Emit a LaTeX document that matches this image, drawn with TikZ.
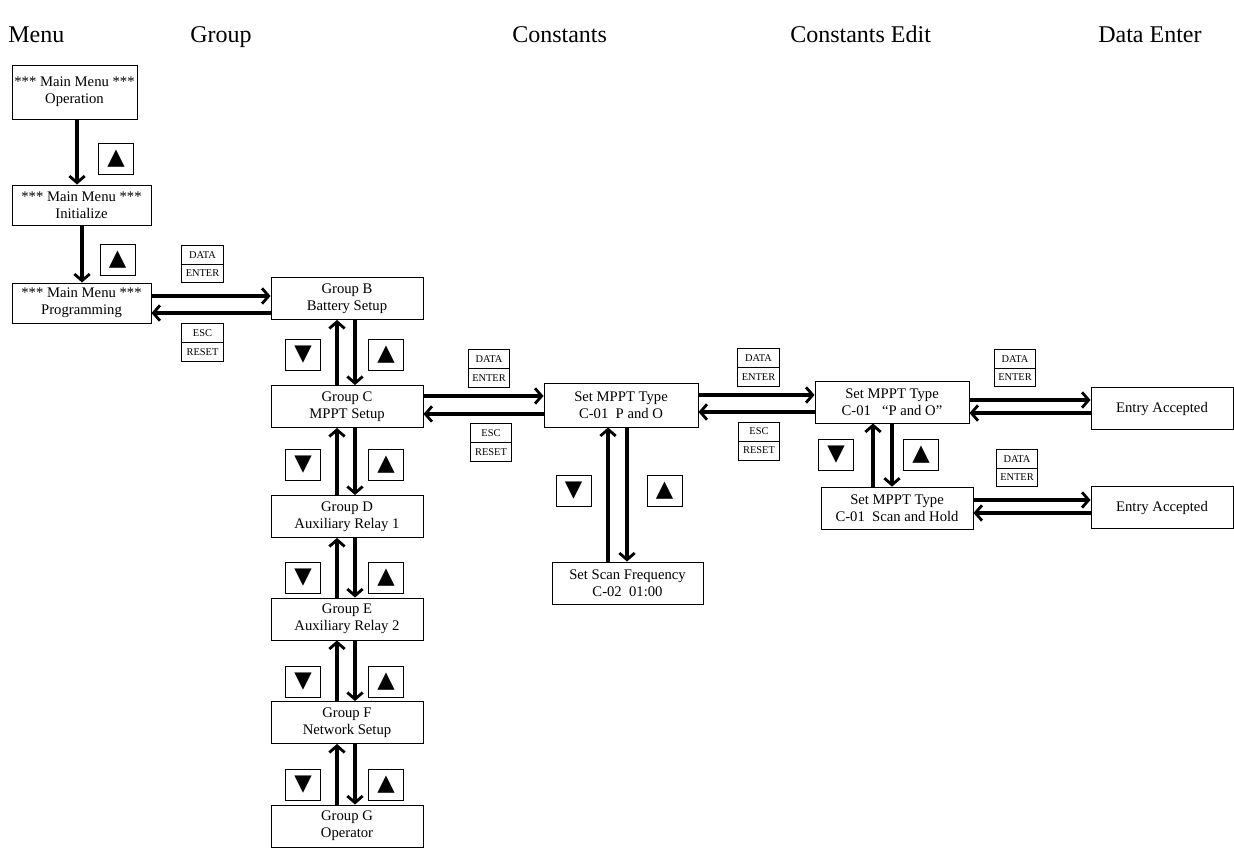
\documentclass[tikz,border=0pt]{standalone}
\usepackage{fontspec}
\setmainfont{Liberation Serif}
\newfontfamily\symfont{DejaVu Sans}
\usetikzlibrary{arrows.meta,shapes.multipart}

\tikzset{
  screen/.style={draw, line width=0.7pt, align=center, inner sep=0pt,
    font=\fontsize{11}{12.5}\selectfont},
  keybox/.style={draw, line width=0.7pt, minimum width=26.25pt,
    minimum height=23.25pt, inner sep=0pt, font=\symfont\fontsize{17}{17}\selectfont},
  enterkey/.style={draw, line width=0.6pt, rectangle split, rectangle split parts=2,
    inner xsep=1.2pt, inner ysep=4.2pt, minimum width=31pt,
    font=\fontsize{7.8}{8.5}\selectfont},
  arr/.style={-{Straight Barb[length=5pt,width=11.5pt,line width=2.1pt]}, line width=3pt},
  heading/.style={anchor=base west, inner sep=0pt, font=\fontsize{18}{20}\selectfont}
}

\begin{document}
\begin{tikzpicture}[x=0.75pt,y=-0.75pt]
    \useasboundingbox (0,0) rectangle (1234,848);

    % column titles
    \node[heading] (hmenu) at (8,43) {Menu};
    \node[heading] (hgroup) at (190,43) {Group};
    \node[heading] (hconst) at (512,43) {Constants};
    \node[heading] (hedit) at (790,43) {Constants Edit};
    \node[heading] (hdata) at (1098,43) {Data Enter};

    % main menu
    \node[screen, minimum width=93.75pt, minimum height=40.5pt] (opmenu) at (74.5,92) {*** Main Menu ***\\Operation};
    \node[screen, minimum width=104.25pt, minimum height=30pt] (initmenu) at (81.5,205) {*** Main Menu ***\\Initialize};
    \node[screen, minimum width=104.25pt, minimum height=30pt] (progmenu) at (81.5,303) {*** Main Menu ***\\Programming};

    \draw[arr] ([xshift=1.9pt]opmenu.south) -- ([xshift=1.9pt]opmenu.south |- initmenu.north);
    \draw[arr] ([xshift=0.4pt]initmenu.south) -- ([xshift=0.4pt]initmenu.south |- progmenu.north);
    \node[keybox] (kup1) at (116,158.5) {▲};
    \node[keybox] (kup2) at (117.5,260) {▲};

    % groups
    \node[screen, minimum width=114pt, minimum height=31.5pt] (grpB) at (347,298.5) {Group B\\Battery Setup};
    \node[screen, minimum width=114pt, minimum height=31.5pt] (grpC) at (347,406.5) {Group C\\MPPT Setup};
    \node[screen, minimum width=114pt, minimum height=31.5pt] (grpD) at (347,516.5) {Group D\\Auxiliary Relay 1};
    \node[screen, minimum width=114pt, minimum height=31.5pt] (grpE) at (347,619) {Group E\\Auxiliary Relay 2};
    \node[screen, minimum width=114pt, minimum height=31.5pt] (grpF) at (347,722.5) {Group F\\Network Setup};
    \node[screen, minimum width=114pt, minimum height=31.5pt] (grpG) at (347,826) {Group G\\Operator};

    \foreach \a/\b in {grpB/grpC, grpC/grpD, grpD/grpE, grpE/grpF, grpF/grpG}{
        \draw[arr] ([xshift=-7.5pt]\b.north) -- ([xshift=-7.5pt]\a.south);
        \draw[arr] ([xshift=6pt]\a.south) -- ([xshift=6pt]\b.north);
    }
    \foreach \y in {355,465,578,682,785}{
        \node[keybox] (kd\y) at (303,\y) {▼};
        \node[keybox] (ku\y) at (386,\y) {▲};
    }

    \draw[arr] ([yshift=5.25pt]progmenu.east) -- ([yshift=5.25pt]progmenu.east -| grpB.west);
    \draw[arr] ([yshift=-10.9pt]grpB.west) -- ([yshift=-10.9pt]grpB.west -| progmenu.east);
    \node[enterkey] (enter1) at (202.5,264) {DATA\nodepart{two}ENTER};
    \node[enterkey] (reset1) at (202.5,342.5) {ESC\nodepart{two}RESET};

    % constants
    \node[screen, minimum width=115.5pt, minimum height=33pt] (setmppt) at (621,405) {Set MPPT Type\\C-01~~P and O};
    \node[screen, minimum width=113.25pt, minimum height=31.5pt] (setscan) at (627.5,583) {Set Scan Frequency\\C-02~~01:00};

    \draw[arr] ([yshift=7.9pt]grpC.east) -- ([yshift=7.9pt]grpC.east -| setmppt.west);
    \draw[arr] ([yshift=-6.75pt]setmppt.west) -- ([yshift=-6.75pt]setmppt.west -| grpC.east);
    \node[enterkey] (enter2) at (489,368.5) {DATA\nodepart{two}ENTER};
    \node[enterkey] (reset2) at (491,442.5) {ESC\nodepart{two}RESET};

    \draw[arr] ([xshift=-14.6pt]setscan.north) -- ([xshift=-14.6pt]setscan.north |- setmppt.south);
    \draw[arr] ([xshift=4.5pt]setmppt.south) -- ([xshift=4.5pt]setmppt.south |- setscan.north);
    \node[keybox] (kdc) at (573.5,491) {▼};
    \node[keybox] (kuc) at (664.5,491) {▲};

    % constants edit
    \node[screen, minimum width=115.5pt, minimum height=31.5pt] (editpo) at (892,402) {Set MPPT Type\\C-01~~~``P and O''};
    \node[screen, minimum width=114pt, minimum height=32pt] (editsh) at (897,508.5) {Set MPPT Type\\C-01~~Scan and Hold};

    \draw[arr] ([yshift=7.5pt]setmppt.east) -- ([yshift=7.5pt]setmppt.east -| editpo.west);
    \draw[arr] ([yshift=-7.5pt]editpo.west) -- ([yshift=-7.5pt]editpo.west -| setmppt.east);
    \node[enterkey] (enter3) at (758.5,367.5) {DATA\nodepart{two}ENTER};
    \node[enterkey] (reset3) at (759,441) {ESC\nodepart{two}RESET};

    \draw[arr] ([xshift=-18pt]editsh.north) -- ([xshift=-18pt]editsh.north |- editpo.south);
    \draw[arr] (editpo.south) -- (editpo.south |- editsh.north);
    \node[keybox] (kde) at (836,455) {▼};
    \node[keybox] (kue) at (921,455) {▲};

    % data enter
    \node[screen, minimum width=106.5pt, minimum height=32pt] (acceptA) at (1162,408.5) {Entry Accepted};
    \node[screen, minimum width=106.5pt, minimum height=31pt] (acceptB) at (1162,507.5) {Entry Accepted};

    \draw[arr] ([yshift=1.5pt]editpo.east) -- ([yshift=1.5pt]editpo.east -| acceptA.west);
    \draw[arr] ([yshift=-3.4pt]acceptA.west) -- ([yshift=-3.4pt]acceptA.west -| editpo.east);
    \draw[arr] ([yshift=6.4pt]editsh.east) -- ([yshift=6.4pt]editsh.east -| acceptB.west);
    \draw[arr] ([yshift=-4.1pt]acceptB.west) -- ([yshift=-4.1pt]acceptB.west -| editsh.east);
    \node[enterkey] (enter4) at (1015,368) {DATA\nodepart{two}ENTER};
    \node[enterkey] (enter5) at (1017,468) {DATA\nodepart{two}ENTER};
\end{tikzpicture}
\end{document}
